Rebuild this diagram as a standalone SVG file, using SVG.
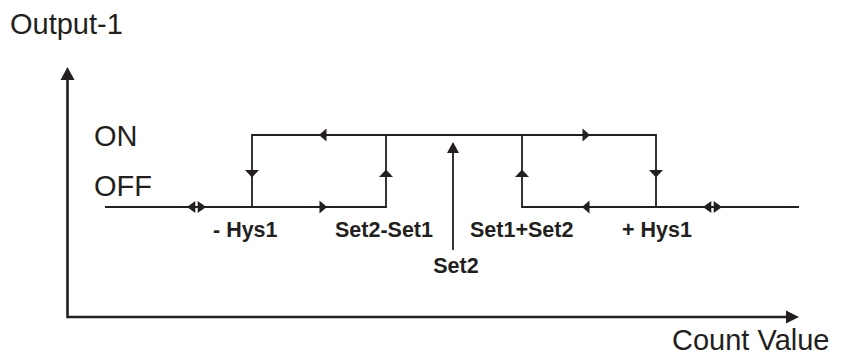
<svg xmlns="http://www.w3.org/2000/svg" width="852" height="356" viewBox="0 0 852 356">
<style>
.t{font-family:"Liberation Sans",Arial,sans-serif;fill:#231f20}
.big{font-size:29px}
.lbl{font-size:21.5px;font-weight:bold}
.ln{stroke:#231f20;stroke-width:1.8;fill:none}
.ax{stroke:#231f20;stroke-width:2.6;fill:none}
.ah{fill:#231f20;stroke:none}
</style>
<rect width="852" height="356" fill="#fff"/>
<g id="axes">
<path class="ax" d="M67.5,318 V76 M66.2,317 H790"/>
<polygon class="ah" points="67.5,67 74.5,80 60.5,80"/>
<polygon class="ah" points="799,317 786,310.5 786,323.5"/>
</g>
<g id="labels">
<text class="t big" x="10" y="34">Output-1</text>
<text class="t big" x="94" y="146">ON</text>
<text class="t big" x="94" y="196">OFF</text>
<text class="t big" x="672" y="350">Count Value</text>
<text class="t lbl" x="213" y="237">- Hys1</text>
<text class="t lbl" x="335" y="237">Set2-Set1</text>
<text class="t lbl" x="470" y="237">Set1+Set2</text>
<text class="t lbl" x="622" y="237">+ Hys1</text>
<text class="t lbl" x="456" y="273" text-anchor="middle">Set2</text>
</g>
<g id="connectors">
<path class="ln" d="M105,207 H386 V135 M252,207 V135 H656 V207 H522 V135 M656,207 H799 M453,250 V150"/>
<polygon class="ah" points="319,135 326.5,128.5 326.5,141.5"/>
<polygon class="ah" points="327,207 319.5,200.5 319.5,213.5"/>
<polygon class="ah" points="590,135 582.5,128.5 582.5,141.5"/>
<polygon class="ah" points="582,207 589.5,200.5 589.5,213.5"/>
<polygon class="ah" points="252,177.5 245,170 259,170"/>
<polygon class="ah" points="656,177.5 649,170 663,170"/>
<polygon class="ah" points="386,169.5 379,177 393,177"/>
<polygon class="ah" points="522,169.5 515,177 529,177"/>
<polygon class="ah" points="453,142 447,153 459,153"/>
<polygon class="ah" points="187,207 195.3,201 195.3,213"/>
<polygon class="ah" points="206,207 197.7,201 197.7,213"/>
<polygon class="ah" points="703,207 711.3,201 711.3,213"/>
<polygon class="ah" points="722,207 713.7,201 713.7,213"/>
</g>
</svg>
